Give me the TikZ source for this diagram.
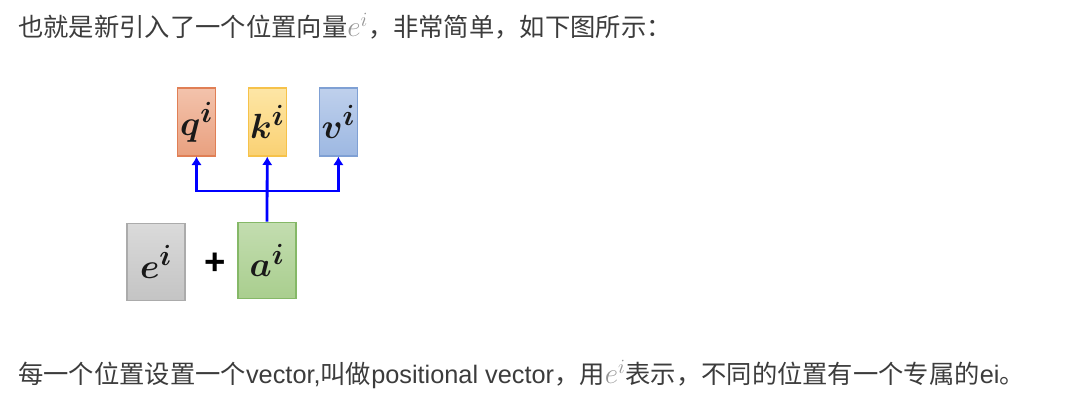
\documentclass[tikz,border=0pt]{standalone}
\usepackage{fontspec}
\setmainfont{Noto Sans CJK SC}
\newfontfamily\latinfont{Liberation Sans}
\usetikzlibrary{positioning,arrows.meta}

\definecolor{textgray}{HTML}{3C3C3C}
\definecolor{qtop}{HTML}{F3C3AC}
\definecolor{qbot}{HTML}{E9A07F}
\definecolor{qedge}{HTML}{E07F55}
\definecolor{ktop}{HTML}{FDE6A6}
\definecolor{kbot}{HTML}{FAD173}
\definecolor{kedge}{HTML}{F6C24A}
\definecolor{vtop}{HTML}{BFD0EC}
\definecolor{vbot}{HTML}{9DB8E2}
\definecolor{vedge}{HTML}{7FA0D4}
\definecolor{etop}{HTML}{DADADA}
\definecolor{ebot}{HTML}{C4C4C4}
\definecolor{eedge}{HTML}{ABABAB}
\definecolor{atop}{HTML}{C3DDB0}
\definecolor{abot}{HTML}{A9CE8E}
\definecolor{aedge}{HTML}{85B867}

\newcommand{\posvec}{\textcolor{black!42}{\fontsize{22}{22}\selectfont$e^{i}$}}

\begin{document}
\begin{tikzpicture}[x=0.025cm, y=-0.025cm,
vecnode/.style={rectangle, line width=0.8pt, inner sep=0pt, text=black!90},
topnode/.style={vecnode, minimum width=0.95cm, minimum height=1.7cm, font=\fontsize{29}{31}\selectfont\boldmath},
botnode/.style={vecnode, minimum width=1.45cm, minimum height=1.92cm, font=\fontsize{31}{33}\selectfont\boldmath},
qcol/.style={draw=qedge, top color=qtop, bottom color=qbot},
kcol/.style={draw=kedge, top color=ktop, bottom color=kbot},
vcol/.style={draw=vedge, top color=vtop, bottom color=vbot},
ecol/.style={draw=eedge, top color=etop, bottom color=ebot},
acol/.style={draw=aedge, top color=atop, bottom color=abot},
flow/.style={blue, line width=2pt, -{Latex[length=6pt,width=7.5pt]}},
caption/.style={anchor=base west, inner sep=0pt, text=textgray, font=\fontsize{18}{21}\selectfont},
]
\useasboundingbox (0,0) rectangle (1080,418);

% Text
\node[caption] (intro) at (18,37) {也就是新引入了一个位置向量\posvec，非常简单，如下图所示：};
\node[caption] (note) at (18,384) {每一个位置设置一个{\latinfont vector,}叫做{\latinfont positional vector}，用\posvec 表示，不同的位置有一个专属的{\latinfont ei}。};

% Nodes
\node[topnode, qcol] (q) at (196.5,122) {$q^i$};
\node[topnode, kcol, right=0.79cm of q] (k) {$k^i$};
\node[topnode, vcol, right=0.8cm of k] (v) {$v^i$};
\node[botnode, ecol] (e) at (156,262) {$e^i$};
\node[botnode, acol] (a) at (267,260.5) {$a^i$};
\node[font=\latinfont\bfseries\fontsize{26}{28}\selectfont] (plus) at (215,264) {+};
\coordinate (fork) at (267,191);

% Arrows
\draw[flow] (a.north) -- (k.south);
\draw[flow] (fork) -| (q.south);
\draw[flow] (fork) -| (v.south);

\end{tikzpicture}
\end{document}
